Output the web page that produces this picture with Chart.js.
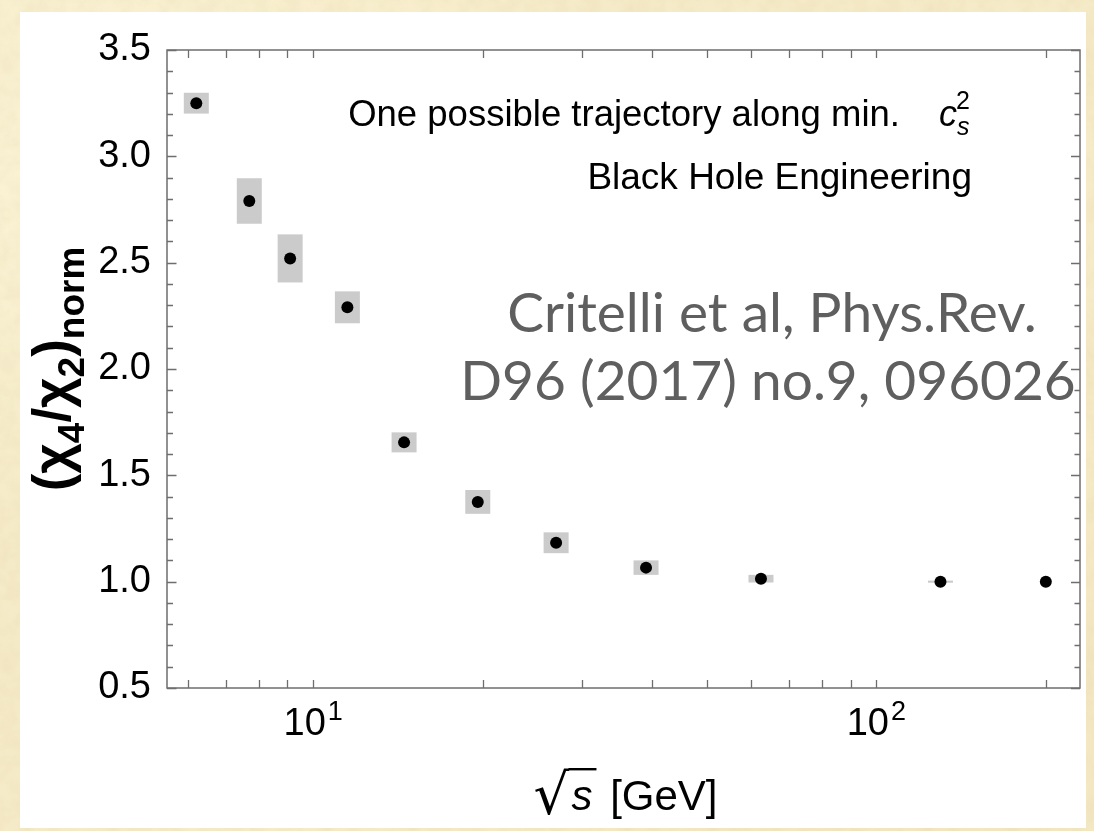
<!DOCTYPE html>
<html>
<head>
<meta charset="utf-8">
<script src="https://cdn.jsdelivr.net/npm/chart.js@4.4.0/dist/chart.umd.min.js"></script>
<style>
  html, body { margin: 0; padding: 0; }
  body {
    width: 1094px;
    height: 831px;
    overflow: hidden;
    position: relative;
    background-color: #f6ebc8;
    background-image:
      url("data:image/svg+xml;utf8,<svg xmlns='http://www.w3.org/2000/svg' width='300' height='300'><filter id='n'><feTurbulence type='fractalNoise' baseFrequency='0.06' numOctaves='3' seed='4'/><feColorMatrix values='0 0 0 0 0.6  0 0 0 0 0.5  0 0 0 0 0.25  0 0 0 0.22 -0.06'/></filter><rect width='300' height='300' filter='url(%23n)'/></svg>"),
      radial-gradient(ellipse at 10% 20%, rgba(255, 250, 225, 0.55), transparent 40%),
      radial-gradient(ellipse at 80% 90%, rgba(235, 220, 175, 0.35), transparent 45%);
  }
  #panel {
    position: absolute;
    left: 20px;
    top: 12px;
    width: 1066px;
    height: 816px;
    background: #ffffff;
  }
</style>
</head>
<body>
<div id="panel"><canvas id="chart"></canvas></div>
<script>
// sqrt(s) in GeV along the trajectory
const energies = [6.2, 7.7, 9.1, 11.5, 14.5, 19.6, 27, 39, 62.4, 130, 200];
// normalised kurtosis ratio and its band half-height
const ratio = [3.25, 2.79, 2.52, 2.29, 1.655, 1.375, 1.183, 1.066, 1.014, 1.0, 1.0];
const ratioErr = [0.049, 0.107, 0.113, 0.075, 0.047, 0.056, 0.049, 0.034, 0.018, 0.005, 0.0];

const yTicks = [0.5, 1.0, 1.5, 2.0, 2.5, 3.0, 3.5];
const xLabelTicks = [10, 100];
const xLabelExp = ['1', '2'];
const xMinorTicks = [6, 7, 8, 9, 10, 20, 30, 40, 50, 60, 70, 80, 90, 100, 200];

const SANS = '"Liberation Sans", Arial, Helvetica, sans-serif';

// gray boxes behind each point
const bandPlugin = {
    id: 'bands',
    beforeDatasetsDraw(chart) {
        const { ctx, scales: { x, y } } = chart;
        ctx.save();
        ctx.fillStyle = '#cbcbcb';
        for (let i = 0; i < energies.length; i++) {
            if (!ratioErr[i]) continue;
            const px = x.getPixelForValue(energies[i]);
            const top = y.getPixelForValue(ratio[i] + ratioErr[i]);
            const bot = y.getPixelForValue(ratio[i] - ratioErr[i]);
            ctx.fillRect(px - 12.5, top, 25, Math.max(bot - top, 1.5));
        }
        ctx.restore();
    }
};

// frame, inward ticks, log labels and the text on the plot
const framePlugin = {
    id: 'frame',
    afterDraw(chart) {
        const { ctx, chartArea: a, scales: { x, y } } = chart;
        ctx.save();
        ctx.strokeStyle = '#6e6e6e';
        ctx.lineWidth = 1.5;
        ctx.strokeRect(a.left, a.top, a.right - a.left, a.bottom - a.top);

        ctx.lineWidth = 1.3;
        ctx.beginPath();
        for (let k = 5; k <= 35; k++) {
            const py = Math.round(y.getPixelForValue(k / 10)) + 0.5;
            const major = k % 5 === 0;
            ctx.moveTo(a.left, py);
            ctx.lineTo(a.left + (major ? 9.5 : 6), py);
            ctx.moveTo(a.right, py);
            ctx.lineTo(a.right - (major ? 9 : 5.5), py);
        }
        xMinorTicks.forEach(v => {
            const px = Math.round(x.getPixelForValue(v)) + 0.5;
            ctx.moveTo(px, a.bottom);
            ctx.lineTo(px, a.bottom - 8);
            ctx.moveTo(px, a.top);
            ctx.lineTo(px, a.top + 8);
        });
        ctx.stroke();

        // 10^1, 10^2
        ctx.fillStyle = '#000';
        ctx.textBaseline = 'alphabetic';
        xLabelTicks.forEach((v, i) => {
            const px = x.getPixelForValue(v);
            ctx.font = '38px ' + SANS;
            const wBase = ctx.measureText('10').width;
            ctx.font = '27px ' + SANS;
            const wExp = ctx.measureText(xLabelExp[i]).width;
            const left = px - (wBase + 2 + wExp) / 2;
            ctx.font = '38px ' + SANS;
            ctx.textAlign = 'left';
            ctx.fillText('10', left, a.bottom + 47);
            ctx.font = '27px ' + SANS;
            ctx.fillText(xLabelExp[i], left + wBase + 2, a.bottom + 32);
        });

        // x title: sqrt(s) [GeV]
        const cx = (a.left + a.right) / 2 + 2;
        const rootFont = '56px "DejaVu Sans", sans-serif';
        ctx.font = rootFont;
        const mRoot = ctx.measureText('\u221A');
        const wRoot = mRoot.actualBoundingBoxRight;
        ctx.font = 'italic 42px ' + SANS;
        const wS = ctx.measureText('s').width;
        ctx.font = '42px ' + SANS;
        const wRest = ctx.measureText(' [GeV]').width;
        const tx = cx - (wRoot + wS + 8 + wRest) / 2;
        const tb = a.bottom + 122;
        const rootBase = tb + 4;
        ctx.font = rootFont;
        ctx.fillText('\u221A', tx, rootBase);
        ctx.font = 'italic 42px ' + SANS;
        ctx.fillText('s', tx + wRoot + 2, tb);
        const barY = rootBase - mRoot.actualBoundingBoxAscent + 1.2;
        ctx.beginPath();
        ctx.lineWidth = 2.4;
        ctx.strokeStyle = '#000';
        ctx.moveTo(tx + wRoot - 1, barY);
        ctx.lineTo(tx + wRoot + wS + 6, barY);
        ctx.stroke();
        ctx.font = '42px ' + SANS;
        ctx.fillText(' [GeV]', tx + wRoot + wS + 8, tb);

        // y title: (chi4/chi2)_norm, rotated
        const parts = [
            ['(', 0], ['\u03C7', 0], ['4', 1], ['/', 0], ['\u03C7', 0], ['2', 1], [')', 0], ['norm', 1]
        ];
        const fontFor = sub => sub ? 'bold 37px ' + SANS : 'bold 53px ' + SANS;
        let total = 0;
        parts.forEach(([t, sub]) => { ctx.font = fontFor(sub); total += ctx.measureText(t).width; });
        ctx.translate(50, (a.top + a.bottom) / 2);
        ctx.rotate(-Math.PI / 2);
        let ox = -total / 2;
        parts.forEach(([t, sub]) => {
            ctx.font = fontFor(sub);
            ctx.fillText(t, ox, sub ? 14 : 0);
            ox += ctx.measureText(t).width;
        });
        ctx.setTransform(1, 0, 0, 1, 0, 0);

        // notes in the upper right
        ctx.fillStyle = '#000';
        ctx.font = '36.5px ' + SANS;
        ctx.textAlign = 'right';
        ctx.fillText('One possible trajectory along min.', 880, 114);
        ctx.textAlign = 'left';
        ctx.font = 'italic 36px ' + SANS;
        ctx.fillText('c', 919, 114);
        ctx.font = 'italic 25px ' + SANS;
        ctx.fillText('s', 937, 123);
        ctx.font = '25px ' + SANS;
        ctx.fillText('2', 936, 97);
        ctx.font = '37px ' + SANS;
        ctx.textAlign = 'right';
        ctx.fillText('Black Hole Engineering', 952, 177);

        // reference
        ctx.fillStyle = '#5f5f5f';
        ctx.font = '55px Lato, "Open Sans", sans-serif';
        ctx.textAlign = 'center';
        ctx.fillText('Critelli et al, Phys.Rev.', 752, 320);
        ctx.fillText('D96 (2017) no.9, 096026', 748, 388);
        ctx.restore();
    }
};

const ctx = document.getElementById('chart').getContext('2d');
new Chart(ctx, {
    type: 'scatter',
    data: {
        datasets: [{
            data: energies.map((e, i) => ({ x: e, y: ratio[i] })),
            backgroundColor: '#000',
            borderWidth: 0,
            pointRadius: 6,
            pointHoverRadius: 6
        }]
    },
    options: {
        responsive: true,
        maintainAspectRatio: false,
        animation: false,
        layout: { padding: { top: 38, right: 6, left: 0, bottom: 0 } },
        plugins: {
            legend: { display: false },
            tooltip: { enabled: false }
        },
        scales: {
            x: {
                type: 'logarithmic',
                min: 5.5,
                max: 230,
                grid: { display: false },
                border: { display: false },
                ticks: { display: false },
                afterFit(scale) { scale.height = 140; }
            },
            y: {
                type: 'linear',
                min: 0.5,
                max: 3.5,
                grid: { display: false },
                border: { display: false },
                afterBuildTicks(scale) { scale.ticks = yTicks.map(v => ({ value: v })); },
                ticks: {
                    color: '#000',
                    padding: 8,
                    font: { family: SANS, size: 38 },
                    callback: v => Number(v).toFixed(1)
                },
                afterFit(scale) { scale.width = 147; }
            }
        }
    },
    plugins: [bandPlugin, framePlugin]
});
</script>
</body>
</html>
